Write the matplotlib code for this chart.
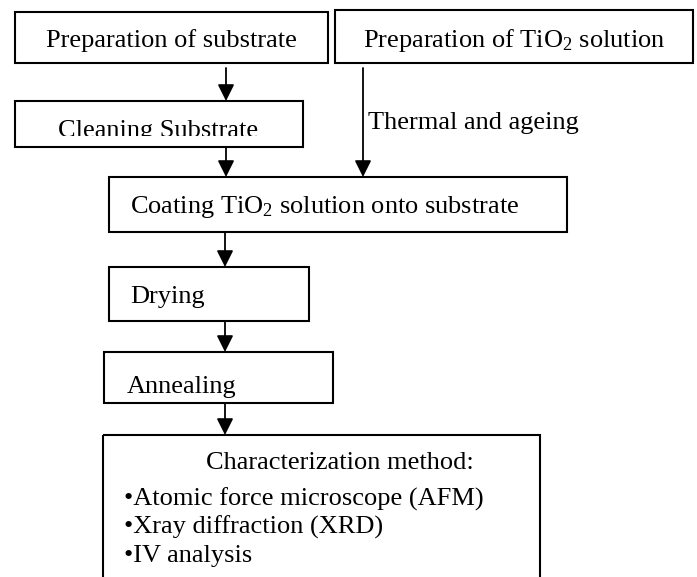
import matplotlib.pyplot as plt
from matplotlib.patches import Rectangle

plt.rcParams['font.family'] = ['Liberation Serif', 'DejaVu Serif']
plt.rcParams['mathtext.fontset'] = 'custom'
plt.rcParams['mathtext.rm'] = 'Liberation Serif'
plt.rcParams['mathtext.it'] = 'Liberation Serif:italic'

# flowchart content
top_steps = ['Preparation of substrate', 'Preparation of TiO$_2$ solution']
clean_step = 'Cleaning Substrate'
main_steps = ['Coating TiO$_2$ solution onto substrate', 'Drying', 'Annealing']
side_label = 'Thermal and ageing'
char_title = 'Characterization method:'
char_items = ['Atomic force microscope (AFM)', 'Xray diffraction (XRD)', 'IV analysis']

fig = plt.figure(figsize=(6.97, 5.77), dpi=100)
ax = fig.add_axes([0, 0, 1, 1])
ax.set_xlim(0, 697)
ax.set_ylim(577, 0)
ax.axis('off')

FS = 19
LW = 1.5


def box(x0, y0, x1, y1):
    r = Rectangle((x0, y0), x1 - x0, y1 - y0, fill=False, ec='black', lw=LW)
    ax.add_patch(r)
    return r


def arrow(x, y0, y1):
    ax.annotate('', xy=(x, y1), xytext=(x, y0),
                arrowprops=dict(arrowstyle='-|>,head_length=0.5,head_width=0.25',
                                color='black', lw=1.3, mutation_scale=20,
                                shrinkA=0, shrinkB=0))


# top row
box(15, 12, 328, 63)
ax.text(171, 47, top_steps[0], fontsize=FS, ha='center', va='baseline')
box(335, 10, 693, 63)
ax.text(514, 47, top_steps[1], fontsize=FS, ha='center', va='baseline')

# cleaning (text clipped by its box)
box(15, 101, 303, 147)
t = ax.text(158, 137, clean_step, fontsize=FS, ha='center', va='baseline',
            clip_on=True)
clip = Rectangle((15, 101), 288, 35, transform=ax.transData, fill=False, lw=0)
t.set_clip_path(clip)

arrow(226, 68, 101)
arrow(226, 147, 177)
arrow(363, 68, 177)
ax.text(368, 129, side_label, fontsize=FS, ha='left', va='baseline')

# main chain
box(109, 177, 567, 232)
ax.text(130, 213, main_steps[0], fontsize=FS, ha='left', va='baseline')
arrow(225, 232, 267)
box(109, 267, 309, 321)
ax.text(130, 303, main_steps[1], fontsize=FS, ha='left', va='baseline')
arrow(225, 321, 352)
box(104, 352, 333, 403)
ax.text(127, 393, main_steps[2], fontsize=FS, ha='left', va='baseline')
arrow(225, 403, 435)

# characterization box runs off the bottom
box(103, 435, 540, 600)
ax.text(340, 469, char_title, fontsize=FS, ha='center', va='baseline')
for i, item in enumerate(char_items):
    ax.text(124, 506 + i * 28, '\u2022' + item, fontsize=FS, ha='left', va='baseline')

fig.savefig('out.png', dpi=100)
